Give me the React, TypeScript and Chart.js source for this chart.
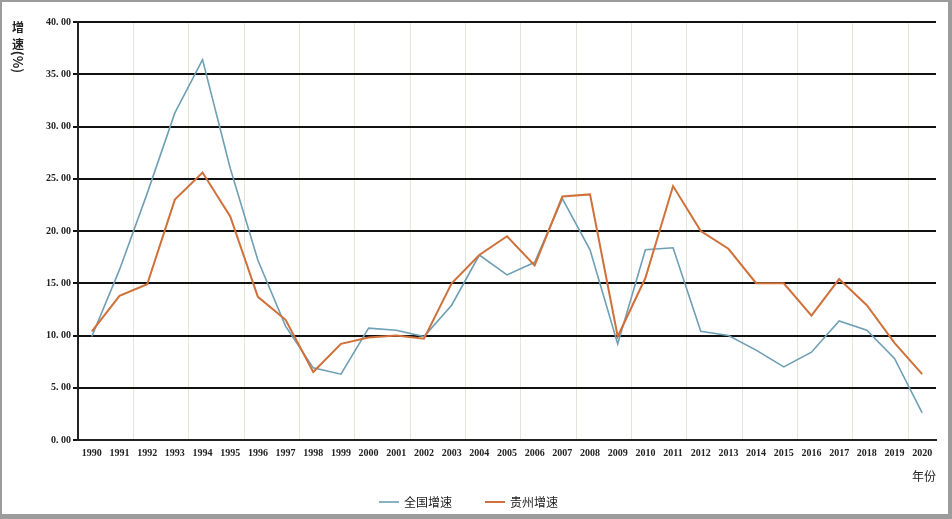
import React, { useEffect, useRef } from "react";
import { Chart, registerables } from "chart.js";

Chart.register(...registerables);

const years: string[] = [
  "1990", "1991", "1992", "1993", "1994", "1995", "1996", "1997", "1998", "1999",
  "2000", "2001", "2002", "2003", "2004", "2005", "2006", "2007", "2008", "2009",
  "2010", "2011", "2012", "2013", "2014", "2015", "2016", "2017", "2018", "2019", "2020",
];

const nationalGrowth: number[] = [
  9.9, 16.3, 23.6, 31.3, 36.4, 26.0, 17.2, 10.9, 6.9, 6.3,
  10.7, 10.5, 9.9, 12.9, 17.7, 15.8, 17.0, 23.1, 18.2, 9.2,
  18.2, 18.4, 10.4, 10.0, 8.6, 7.0, 8.4, 11.4, 10.5, 7.8, 2.6,
];

const guizhouGrowth: number[] = [
  10.4, 13.8, 14.9, 23.0, 25.6, 21.4, 13.7, 11.5, 6.5, 9.2,
  9.8, 10.0, 9.7, 15.0, 17.7, 19.5, 16.7, 23.3, 23.5, 9.9,
  15.5, 24.3, 20.0, 18.3, 15.0, 15.0, 11.9, 15.4, 12.9, 9.3, 6.3,
];

const seriesNames: string[] = ["全国增速", "贵州增速"];
const yAxisTitle: string[] = ["增", "速"];
const yAxisUnit = "(%)";
const xAxisTitle = "年份";

const BLUE = "#6e9fb5";
const ORANGE = "#d0703a";
const TEXT = "#222";
const CJK = '"Noto Sans CJK SC", "Noto Sans", sans-serif';
const SERIF = '"Liberation Serif", "DejaVu Serif", serif';

const overlayPlugin = {
  id: "overlayText",
  afterDraw(chart: any) {
    const ctx = chart.ctx as CanvasRenderingContext2D;
    ctx.save();
    ctx.fillStyle = TEXT;
    ctx.textAlign = "center";
    ctx.textBaseline = "middle";
    // vertical y-axis title
    ctx.font = `bold 12px ${CJK}`;
    ctx.fillText(yAxisTitle[0], 18, 27);
    ctx.fillText(yAxisTitle[1], 18, 44);
    ctx.save();
    ctx.translate(18, 62);
    ctx.rotate(Math.PI / 2);
    ctx.font = `bold 13px ${CJK}`;
    ctx.fillText(yAxisUnit, 0, 0);
    ctx.restore();

    // legend
    const ly = 502;
    let lx = 379;
    ctx.font = `12px ${CJK}`;
    ctx.textAlign = "left";
    chart.data.datasets.forEach((ds: any) => {
      ctx.strokeStyle = ds.borderColor;
      ctx.lineWidth = ds.borderWidth;
      ctx.beginPath();
      ctx.moveTo(lx, ly);
      ctx.lineTo(lx + 20, ly);
      ctx.stroke();
      ctx.fillStyle = TEXT;
      ctx.fillText(ds.label, lx + 25, ly);
      const w = ctx.measureText(ds.label).width;
      lx += 25 + w + 33;
    });
    ctx.restore();
  },
};

export default function App() {
  const canvasRef = useRef<HTMLCanvasElement | null>(null);

  useEffect(() => {
    document.body.style.margin = "0";
    const canvas = canvasRef.current;
    if (!canvas) return;
    const chart = new Chart(canvas, {
      type: "line",
      data: {
        labels: years,
        datasets: [
          {
            label: seriesNames[0],
            data: nationalGrowth,
            borderColor: BLUE,
            backgroundColor: BLUE,
            borderWidth: 1.6,
            pointRadius: 0,
            tension: 0,
            order: 1,
          },
          {
            label: seriesNames[1],
            data: guizhouGrowth,
            borderColor: ORANGE,
            backgroundColor: ORANGE,
            borderWidth: 2,
            pointRadius: 0,
            tension: 0,
            order: 0,
          },
        ],
      },
      options: {
        responsive: false,
        animation: false,
        layout: { padding: { top: 22, right: 16, left: 0, bottom: 0 } },
        plugins: {
          legend: { display: false },
          tooltip: { enabled: false },
        },
        scales: {
          x: {
            type: "category",
            offset: true,
            grid: {
              offset: true,
              drawTicks: false,
              lineWidth: 1,
              color: (c: any) =>
                typeof c.index === "number" && c.index > 0 && c.index % 2 === 0
                  ? "#e3e5da"
                  : "rgba(0,0,0,0)",
            },
            border: { color: "#222", width: 2 },
            ticks: {
              autoSkip: false,
              maxRotation: 0,
              padding: 7,
              color: TEXT,
              font: { family: SERIF, size: 10, weight: "bold" },
            },
            title: {
              display: true,
              text: xAxisTitle,
              align: "end",
              color: TEXT,
              font: { family: CJK, size: 12 },
              padding: { top: 0, bottom: 35 },
            },
            afterFit: (s: any) => {
              s.height = 79;
            },
          },
          y: {
            min: 0,
            max: 40,
            ticks: {
              stepSize: 5,
              padding: 2,
              color: TEXT,
              font: { family: SERIF, size: 10, weight: "bold" },
              callback: (v: any) => Number(v).toFixed(2).replace(".", ". "),
            },
            grid: {
              color: "#111",
              lineWidth: 2,
              tickLength: 5,
              drawTicks: true,
            },
            border: { color: "#222", width: 2 },
            afterFit: (s: any) => {
              s.width = 78;
            },
          },
        },
      },
      plugins: [overlayPlugin],
    } as any);
    return () => chart.destroy();
  }, []);

  return (
    <div style={{ position: "relative", width: 952, height: 519, background: "#fff" }}>
      <canvas ref={canvasRef} width={952} height={519} style={{ display: "block", width: 952, height: 519 }} />
      <div
        style={{
          position: "absolute",
          left: 0,
          top: 0,
          width: 952,
          height: 519,
          boxSizing: "border-box",
          borderStyle: "solid",
          borderColor: "#9c9c9c",
          borderWidth: "2px 4px 5px 2px",
          pointerEvents: "none",
        }}
      />
    </div>
  );
}
